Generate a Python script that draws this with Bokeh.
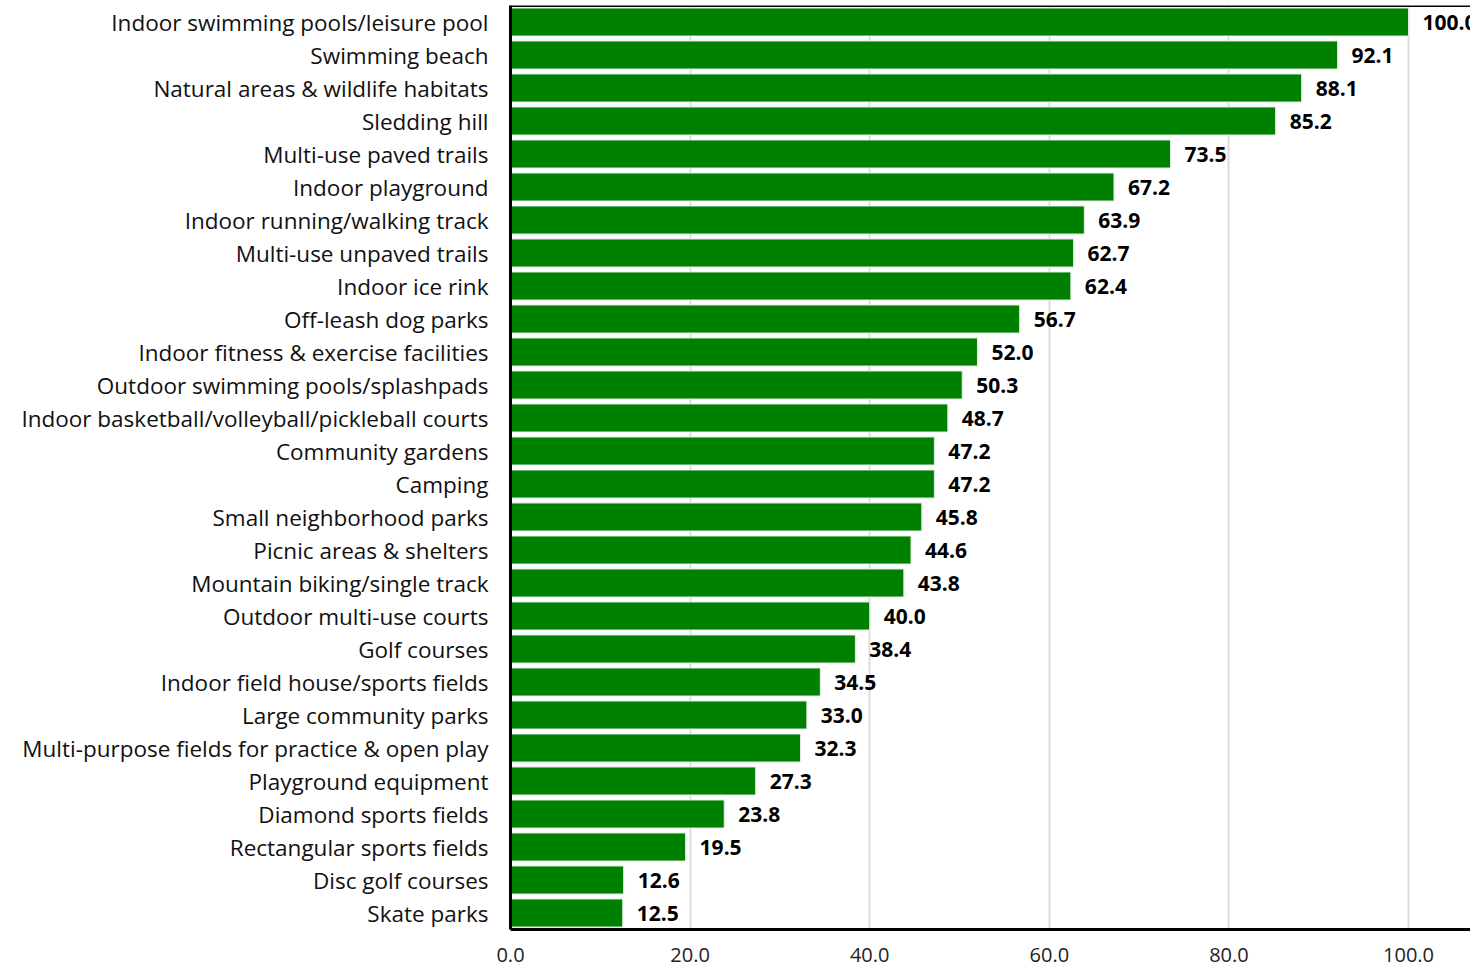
from bokeh.plotting import figure
from bokeh.models import ColumnDataSource, FactorRange, Range1d, FixedTicker, CustomJSTickFormatter, Span
from bokeh.core.properties import value
from bokeh.embed import file_html
from bokeh.resources import INLINE

categories = [
    "Indoor swimming pools/leisure pool",
    "Swimming beach",
    "Natural areas & wildlife habitats",
    "Sledding hill",
    "Multi-use paved trails",
    "Indoor playground",
    "Indoor running/walking track",
    "Multi-use unpaved trails",
    "Indoor ice rink",
    "Off-leash dog parks",
    "Indoor fitness & exercise facilities",
    "Outdoor swimming pools/splashpads",
    "Indoor basketball/volleyball/pickleball courts",
    "Community gardens",
    "Camping",
    "Small neighborhood parks",
    "Picnic areas & shelters",
    "Mountain biking/single track",
    "Outdoor multi-use courts",
    "Golf courses",
    "Indoor field house/sports fields",
    "Large community parks",
    "Multi-purpose fields for practice & open play",
    "Playground equipment",
    "Diamond sports fields",
    "Rectangular sports fields",
    "Disc golf courses",
    "Skate parks",
]
values = [100.0, 92.1, 88.1, 85.2, 73.5, 67.2, 63.9, 62.7, 62.4, 56.7, 52.0, 50.3,
          48.7, 47.2, 47.2, 45.8, 44.6, 43.8, 40.0, 38.4, 34.5, 33.0, 32.3, 27.3,
          23.8, 19.5, 12.6, 12.5]
x_ticks = [0, 20, 40, 60, 80, 100]

labels = ["%.1f" % v for v in values]
source = ColumnDataSource(dict(cat=categories, val=values, lab=labels))

FONT = "Open Sans"

p = figure(
    width=1470, height=964,
    y_range=FactorRange(factors=list(reversed(categories)), range_padding=0),
    x_range=Range1d(0, 106.9),
    output_backend="svg", toolbar_location=None,
    min_border_left=510, min_border_right=0, min_border_top=5, min_border_bottom=30,
)

p.hbar(y="cat", right="val", left=0, height=0.85, source=source,
       fill_color="#008000", line_color="#e4efe4", line_width=1)

p.text(x="val", y="cat", text="lab", source=source, x_offset=14,
       text_baseline="middle", text_align="left",
       text_font=value(FONT), text_font_style="bold", text_font_size="21px",
       text_color="#000000")

p.outline_line_color = None
p.add_layout(Span(location=28, dimension="width", line_color="black", line_width=3))

p.xgrid.ticker = FixedTicker(ticks=x_ticks)
p.xgrid.grid_line_color = "#dcdcdc"
p.xgrid.grid_line_width = 2
p.ygrid.grid_line_color = None

p.xaxis.ticker = FixedTicker(ticks=x_ticks)
p.xaxis.formatter = CustomJSTickFormatter(code="return tick.toFixed(1);")
p.xaxis.axis_line_color = "black"
p.xaxis.axis_line_width = 3
p.xaxis.major_tick_line_color = None
p.xaxis.minor_tick_line_color = None
p.xaxis.major_label_text_font = FONT
p.xaxis.major_label_text_font_size = "20px"
p.xaxis.major_label_text_color = "#222222"
p.xaxis.major_label_standoff = 12

p.yaxis.axis_line_color = "black"
p.yaxis.axis_line_width = 3
p.yaxis.major_tick_line_color = None
p.yaxis.minor_tick_line_color = None
p.yaxis.major_label_text_font = FONT
p.yaxis.major_label_text_font_size = "22.5px"
p.yaxis.major_label_text_color = "#111111"
p.yaxis.major_label_standoff = 16

p.background_fill_color = "white"
p.border_fill_color = "white"

open("out.html", "w").write(file_html(p, INLINE))
